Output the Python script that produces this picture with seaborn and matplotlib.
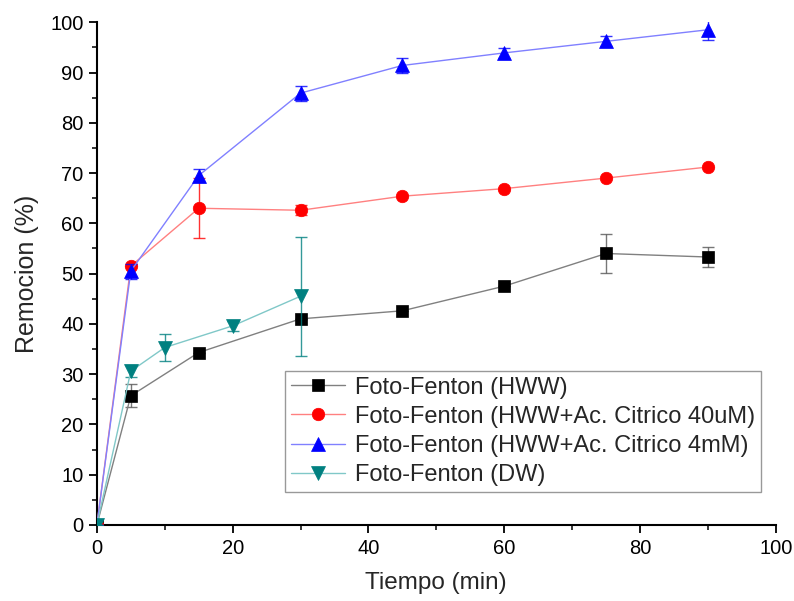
import matplotlib
matplotlib.use("Agg")
import matplotlib.pyplot as plt
import seaborn as sns
import pandas as pd
from matplotlib.ticker import MultipleLocator

sns.set_style("ticks")
plt.rcParams['font.family'] = ['Liberation Sans', 'DejaVu Sans']

# ---- data ----
t_hww = [0, 5, 15, 30, 45, 60, 75, 90]
y_hww = [0, 25.7, 34.3, 41.0, 42.6, 47.5, 54.0, 53.3]
e_hww = [0, 2.3, 0, 0, 0, 0, 3.8, 1.9]

t_40um = [0, 5, 15, 30, 45, 60, 75, 90]
y_40um = [0, 51.5, 63.0, 62.6, 65.4, 66.9, 69.0, 71.2]
e_40um = [0, 0, 6.0, 1.0, 0, 0, 0, 0]

t_4mm = [0, 5, 15, 30, 45, 60, 75, 90]
y_4mm = [0, 50.5, 69.5, 85.9, 91.4, 93.9, 96.2, 98.5]
e_4mm = [0, 1.5, 1.3, 1.5, 1.4, 1.0, 1.0, 2.1]

t_dw = [0, 5, 10, 20, 30]
y_dw = [0, 30.6, 35.3, 39.6, 45.5]
e_dw = [0, 1.2, 2.6, 1.0, 11.8]

labels = ["Foto-Fenton (HWW)",
          "Foto-Fenton (HWW+Ac. Citrico 40uM)",
          "Foto-Fenton (HWW+Ac. Citrico 4mM)",
          "Foto-Fenton (DW)"]

series = [
    (t_hww, y_hww, e_hww, "#808080", "#000000", "s", 8.3),
    (t_40um, y_40um, e_40um, "#ff8080", "#ff0000", "o", 9),
    (t_4mm, y_4mm, e_4mm, "#8080ff", "#0000ff", "^", 9.5),
    (t_dw, y_dw, e_dw, "#80c8c8", "#008080", "v", 9.5),
]

fig = plt.figure(figsize=(7.94, 6.01), dpi=100)
ax = fig.add_axes([0.122, 0.1265, 0.855, 0.8365])

for i, ((t, y, e, lc, mc, mk, ms), lab) in enumerate(zip(series, labels)):
    df = pd.DataFrame({"t": t, "y": y})
    ax.errorbar(t, y, yerr=e, fmt="none", ecolor=mc if i != 0 else "#555555",
                elinewidth=1, capsize=4.5, capthick=1, zorder=2 + i, alpha=0.8)
    sns.lineplot(data=df, x="t", y="y", ax=ax, color=lc, lw=1,
                 marker=mk, markersize=ms, markerfacecolor=mc,
                 markeredgecolor=mc, markeredgewidth=0.5, label=lab, zorder=3 + i)

ax.set_xlim(0, 100)
ax.set_ylim(0, 100)
ax.xaxis.set_major_locator(MultipleLocator(20))
ax.xaxis.set_minor_locator(MultipleLocator(10))
ax.yaxis.set_major_locator(MultipleLocator(10))
ax.yaxis.set_minor_locator(MultipleLocator(5))
ax.tick_params(which="major", direction="out", length=6, width=1.3, labelsize=14.5, colors="black")
ax.tick_params(which="minor", direction="out", length=3.5, width=1.3)
ax.tick_params(axis="x", pad=4)
for s in ["top", "right"]:
    ax.spines[s].set_visible(False)
for s in ["left", "bottom"]:
    ax.spines[s].set_linewidth(1.5)
    ax.spines[s].set_color("black")

ax.set_xlabel("Tiempo (min)", fontsize=17.5, labelpad=10)
ax.set_ylabel("Remocion (%)", fontsize=18, labelpad=8)

leg = ax.legend(loc="lower left", bbox_to_anchor=(0.277, 0.066), fontsize=17,
                frameon=True, fancybox=False, edgecolor="#808080",
                handlelength=2.3, handletextpad=0.4, borderpad=0.25,
                labelspacing=0.3, borderaxespad=0)
leg.get_frame().set_linewidth(1)

fig.savefig("out.png", dpi=100)
